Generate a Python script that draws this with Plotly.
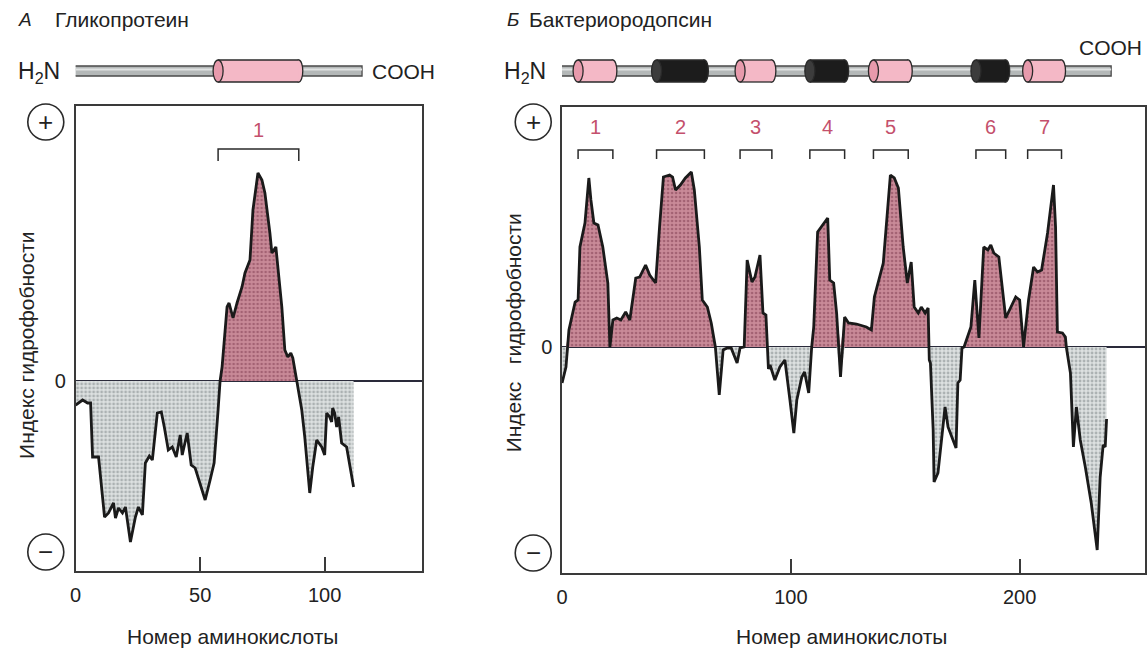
import numpy as np
import plotly.graph_objects as go

W, H = 1148, 649

# ---- data: hydrophobicity profiles ----
glyco_x = [0, 2.8, 4.8, 6, 6.8, 9.2, 11.6, 13.2, 15.2, 16, 17.2, 18.8, 20, 22, 24, 25.2, 26.8, 28,
           29.6, 30.8, 32.8, 34.4, 35.6, 37.2, 38.8, 40.4, 42, 42.8, 44.8, 46.4, 48, 52, 54, 55.6,
           57.2, 58, 58.8, 60.8, 61.6, 63.2, 64.8, 66.8, 68, 70, 71.2, 73.2, 74.8, 76, 78, 78.8,
           80.4, 82.8, 84, 85.2, 86.4, 87.2, 88.8, 89.2, 90.8, 92, 94, 95.2, 96.8, 98.8, 100,
           100.8, 102, 102.8, 103.2, 104, 104.8, 105.6, 106.8, 108.8, 111.6]
glyco_y = [-0.24, -0.19, -0.22, -0.22, -0.76, -0.76, -1.36, -1.32, -1.22, -1.37, -1.27, -1.32,
           -1.26, -1.61, -1.36, -1.26, -1.34, -0.82, -0.75, -0.79, -0.32, -0.31, -0.46, -0.69,
           -0.66, -0.76, -0.54, -0.74, -0.52, -0.84, -0.87, -1.19, -0.99, -0.82, -0.29, 0, 0.14,
           0.74, 0.78, 0.63, 0.78, 0.94, 1.08, 1.21, 1.71, 2.08, 2.01, 1.88, 1.48, 1.28, 1.34,
           0.74, 0.31, 0.24, 0.28, 0.23, 0, -0.06, -0.29, -0.56, -1.12, -0.86, -0.59, -0.66,
           -0.74, -0.32, -0.36, -0.41, -0.27, -0.32, -0.46, -0.36, -0.62, -0.66, -1.06]

bacterio_x = [0, 1.7, 3, 5.7, 7, 7.8, 10, 11.7, 12.6, 13.9, 15.7, 17.8, 20, 20.9, 22.2, 23.9,
              25.7, 27.8, 29.6, 32.2, 33.9, 36.5, 38.3, 40.9, 42.6, 44.3, 47, 48.3, 49.6, 51.7,
              53.9, 56.5, 57.8, 60, 61.3, 63.5, 65.2, 67, 68.7, 70.4, 72.2, 73.9, 76.5, 77.8,
              79.6, 80.9, 83, 84.3, 86.5, 87.8, 89.1, 89.6, 90.2, 90.9, 93, 95.2, 97.4, 99.6,
              101.3, 102.6, 104.8, 106, 107.8, 109.1, 110, 111.7, 114.3, 116.1, 117, 118.7, 120,
              121.7, 123.5, 125.2, 128.7, 133, 135.2, 136.5, 140.4, 143.5, 145.2, 147, 149.1,
              150.9, 152.6, 153.9, 155.7, 157, 158.7, 160, 160.5, 161, 162.2, 162.6, 164.3,
              165.7, 167.4, 168.7, 170.4, 172.2, 173, 174, 174.8, 175.7, 178.7, 180.4, 182.2,
              184.3, 186.1, 187.4, 188.7, 190.9, 193.9, 196.1, 198.3, 200, 201.7, 203.9, 206.1,
              207.8, 209.6, 212.2, 214.8, 215.7, 216.5, 218.7, 220, 220.4, 222.2, 223.5, 224.8,
              226.5, 228.7, 231.3, 233.9, 235.2, 236.5, 237.4, 238]
bacterio_y = [-0.36, -0.2, 0.17, 0.45, 0.47, 1.0, 1.24, 1.69, 1.47, 1.24, 1.22, 1.0, 0.64, 0.0,
              0.27, 0.29, 0.27, 0.35, 0.27, 0.69, 0.70, 0.82, 0.72, 0.64, 1.2, 1.7, 1.72, 1.7,
              1.57, 1.62, 1.69, 1.75, 1.57, 1.0, 0.47, 0.40, 0.24, 0.0, -0.48, -0.03, -0.01,
              -0.01, -0.16, -0.01, 0, 0.87, 0.65, 0.70, 0.92, 0.34, 0.32, 0, -0.22, -0.18, -0.33,
              -0.2, -0.13, -0.53, -0.86, -0.53, -0.3, -0.25, -0.46, 0, 0.2, 1.15, 1.24, 1.29,
              0.67, 0.64, 0.34, -0.3, 0.3, 0.24, 0.23, 0.2, 0.17, 0.5, 0.84, 1.72, 1.69, 1.59,
              1.0, 0.64, 0.85, 0.4, 0.34, 0.4, 0.34, 0.39, -0.13, -0.16, -0.83, -1.35, -1.26,
              -0.93, -0.6, -0.8, -0.9, -1.01, -0.36, -0.33, -0.01, 0, 0.2, 0.67, 0.09, 1.0, 0.97,
              1.02, 0.94, 0.9, 0.29, 0.4, 0.5, 0.47, 0, 0.47, 0.8, 0.75, 0.77, 1.14, 1.62, 1.2,
              0.15, 0.14, 0.1, 0, -0.26, -1.0, -0.6, -0.93, -1.2, -1.56, -2.03, -1.3, -0.98,
              -1.0, -0.72]

# transmembrane segments (start, end residue) and their labels
glyco_helices = [(57.2, 89.6)]
glyco_labels = ["1"]
bacterio_helices = [(7, 22.2), (41.3, 62.2), (77.8, 91.7), (108.3, 123.5),
                    (136.1, 151.3), (180.9, 193.9), (203.5, 218.3)]
bacterio_labels = ["1", "2", "3", "4", "5", "6", "7"]
bacterio_dark = [False, True, False, True, False, True, False]

glyco_ticks = [0, 50, 100]
bacterio_ticks = [0, 100, 200]

FONT = "Liberation Sans, Arial, sans-serif"
INK = "#222222"
PINK_TXT = "#c4506c"


def py(p):
    # pixel row -> paper y
    return 1 - p / H


def pxx(p):
    return p / W


fig = go.Figure()


def add_profile(xs, ys, xa, ya):
    ys = np.array(ys)
    fig.add_trace(go.Scatter(
        x=xs, y=np.maximum(ys, 0), xaxis=xa, yaxis=ya, mode="lines", line=dict(width=0),
        fill="tozeroy", fillcolor="#c07888",
        fillpattern=dict(shape=".", bgcolor="#c98a98", fgcolor="#7d3a4e", size=4, solidity=0.35),
        hoverinfo="skip", showlegend=False))
    fig.add_trace(go.Scatter(
        x=xs, y=np.minimum(ys, 0), xaxis=xa, yaxis=ya, mode="lines", line=dict(width=0),
        fill="tozeroy", fillcolor="#d4d8d8",
        fillpattern=dict(shape=".", bgcolor="#dde1e1", fgcolor="#7a8284", size=4, solidity=0.4),
        hoverinfo="skip", showlegend=False))
    fig.add_trace(go.Scatter(
        x=xs, y=ys, xaxis=xa, yaxis=ya, mode="lines",
        line=dict(color="#1a1a1a", width=2.8), showlegend=False))


add_profile(glyco_x, glyco_y, "x", "y")
add_profile(bacterio_x, bacterio_y, "x2", "y2")

axis_common = dict(showline=True, linecolor="#3a3a3a", linewidth=1.5, mirror=True,
                   showgrid=False, tickfont=dict(family=FONT, size=20, color=INK))

fig.update_layout(
    width=W, height=H, margin=dict(l=0, r=0, t=0, b=0),
    paper_bgcolor="white", plot_bgcolor="white",
    xaxis=dict(domain=[pxx(70), pxx(418)], range=[0, 139], tickvals=glyco_ticks,
               ticks="inside", ticklen=14, tickwidth=1.5, tickcolor="#3a3a3a",
               zeroline=False, ticklabelstandoff=5, **axis_common),
    yaxis=dict(domain=[py(571), py(106)], range=[-1.90, 2.75], tickvals=[0], ticktext=["0"],
               ticks="", zeroline=True, zerolinecolor="#2a2a3a", zerolinewidth=1.5,
               ticklabelstandoff=4, **axis_common),
    xaxis2=dict(domain=[pxx(559), pxx(1145)], range=[0, 254.8], tickvals=bacterio_ticks,
                ticks="inside", ticklen=14, tickwidth=1.5, tickcolor="#3a3a3a",
                zeroline=False, ticklabelstandoff=5, anchor="y2", **axis_common),
    yaxis2=dict(domain=[py(573), py(107)], range=[-2.26, 2.40], tickvals=[0], ticktext=["0"],
                ticks="", zeroline=True, zerolinecolor="#2a2a3a", zerolinewidth=1.5,
                ticklabelstandoff=4, anchor="x2", **axis_common),
)

shapes = []
annotations = []


def txt(x, y, s, size=17, color=INK, angle=0, xanchor="center", **kw):
    annotations.append(dict(x=x, y=y, xref="paper", yref="paper", text=s, showarrow=False,
                            font=dict(family=FONT, size=size, color=color), textangle=angle,
                            xanchor=xanchor, yanchor="middle", **kw))


# circled plus / minus
for cx, cy, sym in [(40, 122, "+"), (40, 552, "−"), (530, 122, "+"), (530, 553, "−")]:
    shapes.append(dict(type="circle", xref="paper", yref="paper", xsizemode="pixel",
                       ysizemode="pixel", xanchor=pxx(cx), yanchor=py(cy),
                       x0=-18, x1=18, y0=-18, y1=18, line=dict(color="#2a2a2a", width=1.6)))
    txt(pxx(cx), py(cy), sym, size=26)

# brackets and helix numbers
def add_brackets(helices, labels, xref, yref, ytop, ybot, ylab):
    for (a, b), lab in zip(helices, labels):
        shapes.append(dict(type="path", xref=xref, yref=yref,
                           path=f"M {a},{ybot} L {a},{ytop} L {b},{ytop} L {b},{ybot}",
                           line=dict(color="#2a2a2a", width=1.5)))
        annotations.append(dict(x=(a + b) / 2, y=ylab, xref=xref, yref=yref, text=lab,
                                showarrow=False, font=dict(family=FONT, size=20, color=PINK_TXT)))


add_brackets(glyco_helices, glyco_labels, "x", "y", 2.32, 2.20, 2.51)
add_brackets(bacterio_helices, bacterio_labels, "x2", "y2", 1.97, 1.88, 2.20)


# protein diagram above each panel
def add_rod(xref, x0, x1, ymid):
    shapes.append(dict(type="rect", xref=xref, yref="paper", x0=x0, x1=x1,
                       y0=py(ymid + 5), y1=py(ymid - 5), fillcolor="#b4b8b8",
                       line=dict(color="#4a4a4a", width=1.3)))
    shapes.append(dict(type="line", xref=xref, yref="paper", x0=x0, x1=x1,
                       y0=py(ymid - 1.5), y1=py(ymid - 1.5), line=dict(color="#dfe2e2", width=2)))


def add_cylinder(xref, a, b, ymid, dark):
    body = "#1c1c1c" if dark else "#f4b8c6"
    cap = "#3c3c3c" if dark else "#e79aac"
    top, bot = ymid - 11, ymid + 11
    shapes.append(dict(type="circle", xref=xref, yref="paper", xsizemode="pixel", xanchor=b,
                       x0=-4, x1=4, y0=py(bot), y1=py(top), fillcolor=body,
                       line=dict(color="#2a2a2a", width=1.3)))
    shapes.append(dict(type="rect", xref=xref, yref="paper", x0=a, x1=b, y0=py(bot), y1=py(top),
                       fillcolor=body, line=dict(width=0)))
    for yy in (top, bot):
        shapes.append(dict(type="line", xref=xref, yref="paper", x0=a, x1=b, y0=py(yy), y1=py(yy),
                           line=dict(color="#2a2a2a", width=1.3)))
    shapes.append(dict(type="circle", xref=xref, yref="paper", xsizemode="pixel", xanchor=a,
                       x0=-5, x1=5, y0=py(bot), y1=py(top), fillcolor=cap,
                       line=dict(color="#2a2a2a", width=1.3)))


add_rod("x", -0.8, 115, 71)
for a, b in glyco_helices:
    add_cylinder("x", a, b, 71, False)

add_rod("x2", -0.8, 240, 71)
for (a, b), dark in zip(bacterio_helices, bacterio_dark):
    add_cylinder("x2", a, b, 71, dark)

txt(pxx(33), py(73), "H<sub>2</sub>N", size=23)
txt(pxx(400), py(72), "COOH", size=21)
txt(pxx(522), py(73), "H<sub>2</sub>N", size=23)
txt(pxx(1110), py(48), "COOH", size=21)

# panel titles
txt(pxx(10), py(20), "<i>А</i>", size=19, xanchor="left")
txt(pxx(47), py(20), "Гликопротеин", size=21, xanchor="left")
txt(pxx(502), py(20), "<i>Б</i>", size=19, xanchor="left")
txt(pxx(524), py(20), "Бактериородопсин", size=21, xanchor="left")

# axis titles
txt(pxx(228), py(636), "Номер аминокислоты", size=21)
txt(pxx(840), py(636), "Номер аминокислоты", size=21)
txt(pxx(20), py(345), "Индекс гидрофобности", size=21, angle=-90)
txt(pxx(510), py(333), "Индекс   гидрофобности", size=21, angle=-90)

fig.update_layout(shapes=shapes, annotations=annotations)

fig.write_html("out.html", config={"displayModeBar": False},
               post_script="document.body.style.margin='0';document.body.style.overflow='hidden';")
